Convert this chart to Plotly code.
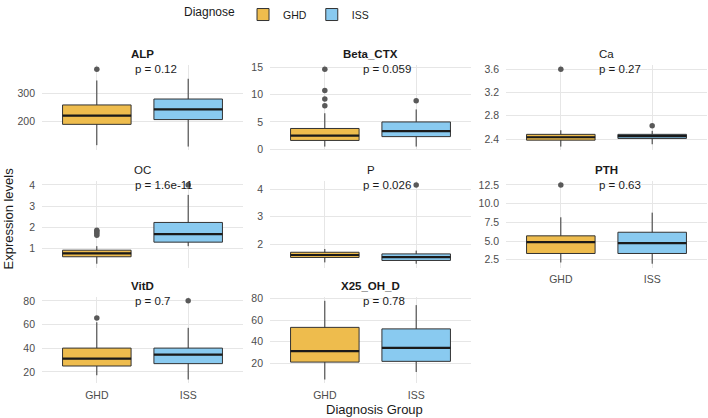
import plotly.graph_objects as go

W, H = 708, 418

# ---------------- data ----------------
panels = ["ALP", "Beta_CTX", "Ca", "OC", "P", "PTH", "VitD", "X25_OH_D"]
groups = ["GHD", "ISS"]
p_values = ["p = 0.12", "p = 0.059", "p = 0.27", "p = 1.6e-11",
            "p = 0.026", "p = 0.63", "p = 0.7", "p = 0.78"]
bold_titles = [True, True, False, False, False, True, True, True]

# per panel: [GHD, ISS]
lower_fence = [[115, 110], [0.47, 0.47], [2.27, 2.31], [0.28, 1.11],
               [1.33, 1.28], [2.14, 1.97], [17.2, 13.6], [4.7, 11.7]]
q1_vals = [[189, 206], [1.6, 2.3], [2.38, 2.41], [0.61, 1.30],
           [1.51, 1.40], [3.34, 3.34], [25.0, 27.0], [20.9, 21.6]]
median_vals = [[220, 242], [2.5, 3.3], [2.43, 2.45], [0.77, 1.68],
               [1.60, 1.52], [4.85, 4.72], [31.2, 34.6], [31.1, 34.2]]
q3_vals = [[258, 279], [3.8, 5.0], [2.48, 2.48], [0.92, 2.23],
           [1.70, 1.64], [5.70, 6.18], [40.1, 40.1], [53.2, 51.8]]
upper_fence = [[345, 351], [6.6, 7.3], [2.55, 2.54], [1.11, 3.53],
               [1.82, 1.76], [8.18, 8.8], [61.9, 57.2], [77.9, 73.9]]
outliers = [
    [[385], []],
    [[14.7, 10.8, 9.2, 8.0], [8.9]],
    [[3.6], [2.63]],
    [[1.62, 1.72, 1.80, 1.86], [4.0]],
    [[], [4.16]],
    [[12.5], []],
    [[65.6], [80]],
    [[], []],
]
y_ticks = [[200, 300], [0, 5, 10, 15], [2.4, 2.8, 3.2, 3.6], [1, 2, 3, 4],
           [2, 3, 4], [2.5, 5.0, 7.5, 10.0, 12.5], [20, 40, 60, 80], [20, 40, 60, 80]]
y_tick_text = [["200", "300"], ["0", "5", "10", "15"], ["2.4", "2.8", "3.2", "3.6"],
               ["1", "2", "3", "4"], ["2", "3", "4"],
               ["2.5", "5.0", "7.5", "10.0", "12.5"], ["20", "40", "60", "80"],
               ["20", "40", "60", "80"]]

# ---------------- styling / layout ----------------
fills = {"GHD": "#EEBC4D", "ISS": "#89CAF0"}
FONT = "Liberation Sans, Arial, sans-serif"
GRID = "#E6E6E6"
TICK_COL = "#4D4D4D"

col_px = [(42, 243), (270, 471), (506, 707)]
row_px = [(62.8, 148.5), (179.3, 266.6), (296, 383.2)]
show_xlabels = {5, 6, 7}

fig = go.Figure()
layout = dict(
    width=W, height=H,
    margin=dict(l=0, r=0, t=0, b=0),
    paper_bgcolor="white", plot_bgcolor="white",
    font=dict(family=FONT, color="#1a1a1a"),
    showlegend=True,
    legend=dict(orientation="h", x=278 / W, xanchor="center", y=1 + 3 / H, yanchor="top",
                title=dict(text="Diagnose", font=dict(size=12, color="#1a1a1a", family=FONT),
                           side="left"),
                font=dict(size=10.5, color="#1a1a1a", family=FONT), itemwidth=30,
                bgcolor="rgba(0,0,0,0)", tracegroupgap=0),
)
annotations = []
BOXW = 0.75

for i, name in enumerate(panels):
    r, c = divmod(i, 3)
    ax = "" if i == 0 else str(i + 1)
    xa, ya = "x" + ax, "y" + ax
    x0, x1 = col_px[c]
    t, b = row_px[r]

    allv = []
    for g in range(2):
        allv += [lower_fence[i][g], upper_fence[i][g]] + outliers[i][g]
    lo, hi = min(allv), max(allv)
    pad = 0.05 * (hi - lo)

    layout["xaxis" + ax] = dict(
        domain=[x0 / W, x1 / W], anchor=ya, range=[-0.6, 1.6],
        tickvals=[0, 1], ticktext=groups, showticklabels=(i in show_xlabels),
        showgrid=True, gridcolor=GRID, gridwidth=1, zeroline=False,
        showline=False, ticks="", automargin=False,
        tickfont=dict(size=10.5, color=TICK_COL, family=FONT), ticklabelstandoff=4,
    )
    layout["yaxis" + ax] = dict(
        domain=[1 - b / H, 1 - t / H], anchor=xa, range=[lo - pad, hi + pad],
        tickvals=y_ticks[i], ticktext=y_tick_text[i],
        showgrid=True, gridcolor=GRID, gridwidth=1, zeroline=False,
        showline=False, ticks="", automargin=False,
        tickfont=dict(size=10.5, color=TICK_COL, family=FONT), ticklabelstandoff=6,
    )

    for g, grp in enumerate(groups):
        fig.add_trace(go.Box(
            x=[g], q1=[q1_vals[i][g]], median=[median_vals[i][g]], q3=[q3_vals[i][g]],
            lowerfence=[lower_fence[i][g]], upperfence=[upper_fence[i][g]],
            width=BOXW, whiskerwidth=0, fillcolor=fills[grp],
            line=dict(color="#333333", width=1),
            boxpoints=False, name=grp, legendgroup=grp, showlegend=(i == 0),
            xaxis=xa, yaxis=ya, hoverinfo="skip",
        ))
        fig.add_trace(go.Scatter(
            x=[g - BOXW / 2, g + BOXW / 2], y=[median_vals[i][g]] * 2, mode="lines",
            line=dict(color="#1a1a1a", width=2.2), showlegend=False,
            xaxis=xa, yaxis=ya, hoverinfo="skip",
        ))
        if outliers[i][g]:
            fig.add_trace(go.Scatter(
                x=[g] * len(outliers[i][g]), y=outliers[i][g], mode="markers",
                marker=dict(color="#595959", size=5.5), showlegend=False,
                xaxis=xa, yaxis=ya, hoverinfo="skip",
            ))

    title = f"<b>{name}</b>" if bold_titles[i] else name
    annotations.append(dict(
        text=title, xref=xa + " domain", yref=ya + " domain", x=0.5, y=1,
        xanchor="center", yanchor="middle", yshift=11, showarrow=False,
        font=dict(size=11.5, color="#1a1a1a", family=FONT),
    ))
    annotations.append(dict(
        text=p_values[i], xref=xa, yref=ya, x=0.4, y=hi,
        xanchor="left", yanchor="middle", showarrow=False,
        font=dict(size=11.5, color="#1a1a1a", family=FONT),
    ))

annotations.append(dict(
    text="Diagnosis Group", xref="paper", yref="paper", x=374.5 / W, y=1 - 409 / H,
    xanchor="center", yanchor="middle", showarrow=False,
    font=dict(size=13, color="#1a1a1a", family=FONT),
))
annotations.append(dict(
    text="Expression levels", xref="paper", yref="paper", x=8 / W, y=1 - 217 / H,
    xanchor="center", yanchor="middle", textangle=-90, showarrow=False,
    font=dict(size=13, color="#1a1a1a", family=FONT),
))
layout["annotations"] = annotations
fig.update_layout(**layout)
fig.write_html("out.html")
